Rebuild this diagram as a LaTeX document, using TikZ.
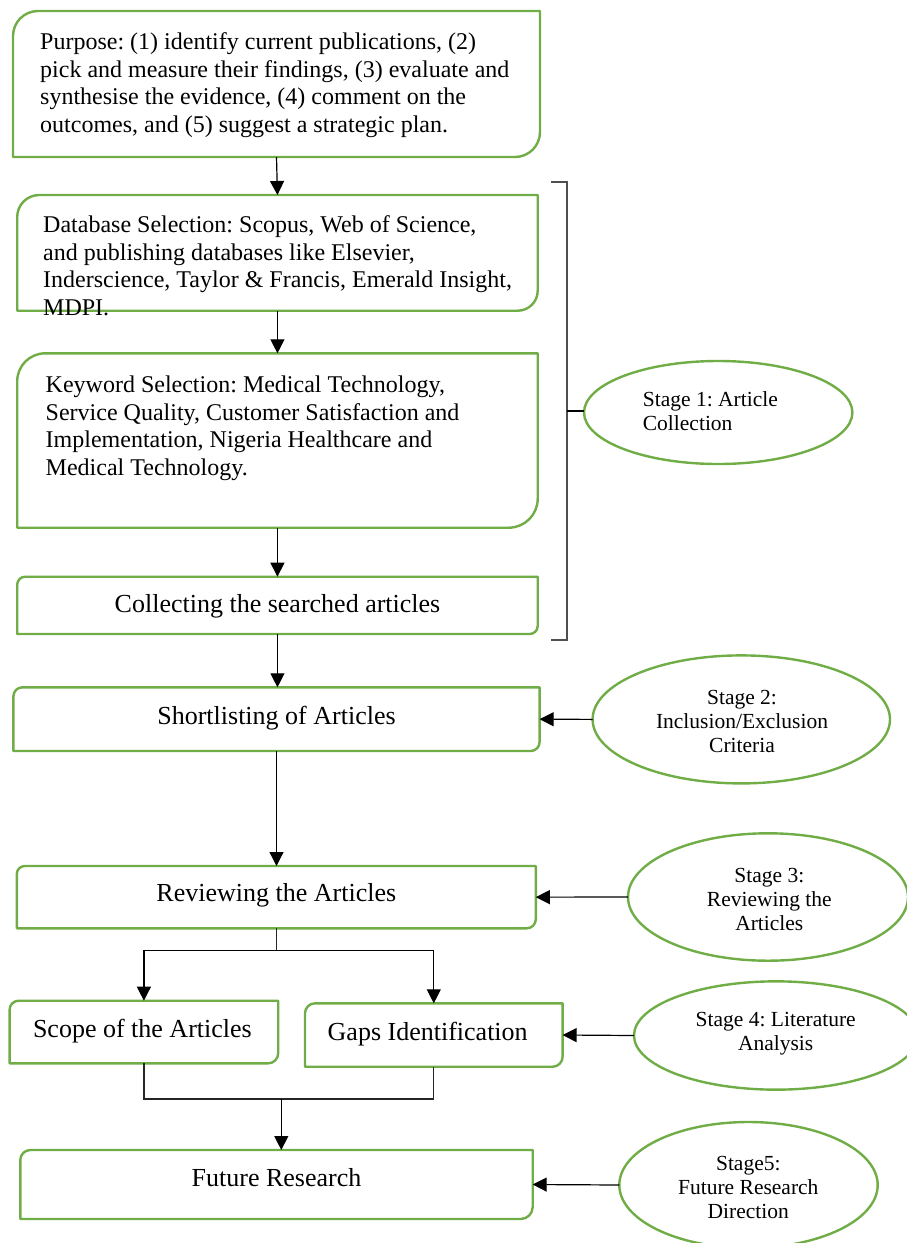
\documentclass[tikz,border=0pt]{standalone}
\usepackage{fontspec}
\setmainfont{Liberation Serif}
\usetikzlibrary{shapes.geometric,arrows.meta}
\definecolor{gr}{HTML}{70AD47}
\definecolor{brkc}{HTML}{505050}
\frenchspacing
\newcommand\bord[3]{\draw[gline] (#1.south west) -- ([yshift=-#2pt]#1.north west) arc[start angle=180,end angle=90,radius=#2pt] -- (#1.north east) -- ([yshift=#3pt]#1.south east) arc[start angle=0,end angle=-90,radius=#3pt] -- cycle;}
\newcommand\tl[1]{\begin{tabular}[t]{@{}l@{}}#1\end{tabular}}
\newcommand\tc[1]{\begin{tabular}[t]{@{}c@{}}#1\end{tabular}}
\tikzset{
  box/.style={rectangle, inner sep=0pt, outer sep=0pt},
  gline/.style={draw=gr, line width=2.4pt, line join=round},
  ell/.style={ellipse, draw=gr, line width=2.4pt, inner sep=0pt, outer sep=0pt},
  arr/.style={draw=black, line width=1.2pt, -{Triangle[length=14pt,width=14pt]}},
  ln/.style={draw=black!85, line width=1.2pt},
  txt/.style={inner sep=0pt, font=\fontsize{24}{27.5}\selectfont\frenchspacing},
  big/.style={inner sep=0pt, font=\fontsize{26}{30}\selectfont\frenchspacing},
  stg/.style={inner sep=0pt, font=\fontsize{21.5}{24.3}\selectfont\frenchspacing},
}
\begin{document}
\begin{tikzpicture}[x=1pt,y=-1pt]
\useasboundingbox (0,0) rectangle (906,1243);
% boxes
\node[box, minimum width=527, minimum height=146] (purpose) at (276.5,84) {};
\node[box, minimum width=520.5, minimum height=115.7] (db) at (277.45,252.85) {};
\node[box, minimum width=520.5, minimum height=174.4] (kw) at (277.45,440.5) {};
\node[box, minimum width=520.5, minimum height=57.3] (coll) at (277.45,605.35) {};
\node[box, minimum width=526.2, minimum height=63.7] (short) at (276.5,719.15) {};
\node[box, minimum width=519, minimum height=62.3] (rev) at (276.3,897.15) {};
\node[box, minimum width=268.6, minimum height=62.6] (scope) at (143.9,1032) {};
\node[box, minimum width=257.6, minimum height=63.4] (gaps) at (433.8,1035) {};
\node[box, minimum width=512.4, minimum height=69] (future) at (276.5,1184.5) {};
\bord{purpose}{25}{25}
\bord{db}{22}{20}
\bord{kw}{28}{29}
\bord{coll}{8}{8}
\bord{short}{9}{9}
\bord{rev}{8}{9}
\bord{scope}{9}{10}
\bord{gaps}{10}{10}
\bord{future}{10}{12}
% box texts
\node[txt, anchor=base west] (tpurpose) at (40,49.5) {\tl{Purpose: (1) identify current publications, (2)\\ pick and measure their findings, (3) evaluate and\\ synthesise the evidence, (4) comment on the\\ outcomes, and (5) suggest a strategic plan.}};
\node[txt, anchor=base west] (tdb) at (43,232.7) {\tl{Database Selection: Scopus, Web of Science,\\ and publishing databases like Elsevier,\\ Inderscience, Taylor \& Francis, Emerald Insight,\\ MDPI.}};
\node[txt, anchor=base west] (tkw) at (45.5,392.7) {\tl{Keyword Selection: Medical Technology,\\ Service Quality, Customer Satisfaction and\\ Implementation, Nigeria Healthcare and\\ Medical Technology.}};
\node[big, anchor=base] (tcoll) at (277.5,612.7) {Collecting the searched articles};
\node[big, anchor=base] (tshort) at (276.5,724.3) {Shortlisting of Articles};
\node[big, anchor=base] (trev) at (276.3,901.7) {Reviewing the Articles};
\node[big, anchor=base] (tscope) at (142.4,1037.3) {Scope of the Articles};
\node[big, anchor=base] (tgaps) at (427.7,1040) {Gaps Identification};
\node[big, anchor=base] (tfut) at (276.5,1186.7) {Future Research};
% ellipses
\node[ell, minimum width=268.4, minimum height=103] (e1) at (718.2,412.5) {};
\node[ell, minimum width=297.4, minimum height=128] (e2) at (741.3,719.4) {};
\node[ell, minimum width=280, minimum height=127.4] (e3) at (768,897) {};
\node[ell, minimum width=284, minimum height=108.3] (e4) at (776,1035.5) {};
\node[ell, minimum width=258.4, minimum height=126] (e5) at (748.5,1185) {};
\node[stg, anchor=base west] (s1) at (642.7,406) {\tl{Stage 1: Article\\ Collection}};
\node[stg, anchor=base] (s2) at (742,704.3) {\tc{Stage 2:\\ Inclusion/Exclusion\\ Criteria}};
\node[stg, anchor=base] (s3) at (769.3,882.2) {\tc{Stage 3:\\ Reviewing the\\ Articles}};
\node[stg, anchor=base] (s4) at (775.7,1026.5) {\tc{Stage 4: Literature\\ Analysis}};
\node[stg, anchor=base] (s5) at (748.3,1170) {\tc{Stage5:\\ Future Research\\ Direction}};
% bracket
\draw[draw=brkc, line width=1.6pt] (551,181.7) -- (567,181.7) -- (567,640) -- (551,640);
\coordinate (bmid) at (567,410.7);
\draw[draw=black, line width=2pt] (bmid) -- (bmid -| e1.west);
% main flow
\draw[arr] (purpose.south) -- (db.north);
\draw[arr] (db.south) -- (kw.north);
\draw[arr] (kw.south) -- (coll.north);
\draw[arr] (coll.south) -- (coll.south |- short.north);
\draw[arr] (short.south) -- (short.south |- rev.north);
\coordinate (split) at (276.3,950.7);
\draw[ln] (rev.south) -- (split);
\draw[arr] (split) -| (scope.north);
\draw[arr] (split) -| (gaps.north);
\coordinate (join) at (281.3,1099);
\draw[ln] (scope.south) -- (scope.south |- join) -- (gaps.south |- join) -- (gaps.south);
\draw[arr] (join) -- (join |- future.north);
% stage arrows
\draw[arr] (e2.west) -- (short.east);
\draw[arr] (e3.west) -- (rev.east);
\draw[arr] (e4.west) -- (gaps.east);
\draw[arr] (e5.west) -- (future.east);
\end{tikzpicture}
\end{document}
